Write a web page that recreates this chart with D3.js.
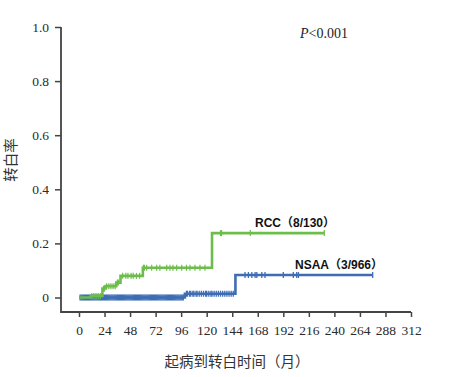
<!DOCTYPE html>
<html>
<head>
<meta charset="utf-8">
<script src="https://cdn.jsdelivr.net/npm/d3@7"></script>
<style>
  body { margin: 0; background: #fff; }
  .tick text { font-family: "Liberation Serif", "Times New Roman", serif; font-size: 13.5px; fill: #2a2a2a; }
  .tick line { stroke: #444; stroke-width: 1.5; }
</style>
</head>
<body>
<div id="chart"></div>
<script>
// x axis ticks (months)
const xTicks = [0, 24, 48, 72, 96, 120, 144, 168, 192, 216, 240, 264, 288, 312];
const yTicks = [0, 0.2, 0.4, 0.6, 0.8, 1.0];

// RCC step curve
const rccTimes = [0, 11, 22, 25, 35, 39, 60, 125, 230.5];
const rccRates = [0, 0.006, 0.033, 0.042, 0.055, 0.08, 0.11, 0.238, 0.238];
const rccCensor = [12, 14, 16, 18, 20, 23, 24, 26, 28, 30, 32, 34, 36, 37, 41, 44, 46, 49, 51, 54, 57,
  60.5, 61.5, 63.6, 68.3, 73, 76, 82.4, 85.5, 88.3, 91.8, 96.5, 101, 104.3, 109, 113.7, 118.4,
  133, 134, 161, 230.5];

// NSAA step curve
const nsaaTimes = [0, 99.5, 147, 276];
const nsaaRates = [0, 0.014, 0.083, 0.083];
const nsaaCensor = [1, 2, 3, 4, 5, 6, 7, 8, 9, 10, 11, 12, 13, 14, 15, 16, 17, 18, 19, 20, 21, 22, 23, 24, 25, 26, 27, 28, 29,
  30, 31, 32, 33, 34, 35, 36, 37, 38, 39, 40, 41, 42, 43, 44, 45, 46, 47, 48, 49, 50, 51, 52, 53, 54, 55, 56, 57, 58, 59,
  60, 61, 62, 63, 64, 65, 66, 67, 68, 69, 70, 71, 72, 73, 74, 75, 76, 77, 78, 79, 80, 81, 82, 83, 84, 85, 86, 87, 88, 89,
  90, 91, 92, 93, 94, 95, 96, 97, 98,
  101, 102, 104, 105, 107, 108, 110, 111, 113, 115, 117, 119, 120, 122, 124, 125, 127, 129, 131, 133, 135, 137, 139, 141, 143, 145,
  156, 159.2, 162.4, 165.5, 167.1, 171.8, 174.8, 192, 201.4, 204.6, 206.2, 276];

const width = 465, height = 377;

const svg = d3.select("#chart").append("svg")
    .attr("width", width)
    .attr("height", height);

const x = d3.scaleLinear().domain([0, 312]).range([79, 411]);
const y = d3.scaleLinear().domain([0, 1]).range([297.5, 27]);

const axisY = 312, axisX = 61;

// axes
const xAxis = svg.append("g")
    .attr("transform", `translate(0, ${axisY})`)
    .call(d3.axisBottom(x).tickValues(xTicks).tickFormat(d3.format("d")).tickSize(5).tickPadding(8));
xAxis.select(".domain").remove();

const yAxis = svg.append("g")
    .attr("transform", `translate(${axisX}, 0)`)
    .call(d3.axisLeft(y).tickValues(yTicks).tickFormat(d => d === 0 ? "0" : d3.format(".1f")(d)).tickSize(6).tickPadding(6));
yAxis.select(".domain").remove();

svg.append("path")
    .attr("d", `M${axisX},${y(1)}V${axisY}H${x(312)}`)
    .attr("fill", "none")
    .attr("stroke", "#444")
    .attr("stroke-width", 1.8);

// curves
const line = d3.line()
    .x(d => x(d[0]))
    .y(d => y(d[1]))
    .curve(d3.curveStepAfter);

function stepAt(times, rates, t) {
    let v = 0;
    times.forEach((tt, i) => { if (tt <= t) v = rates[i]; });
    return v;
}

function drawCurve(times, rates, censor, color, tickW) {
    svg.append("path")
        .datum(times.map((t, i) => [t, rates[i]]))
        .attr("d", line)
        .attr("fill", "none")
        .attr("stroke", color)
        .attr("stroke-width", 2.6);

    svg.selectAll(null)
        .data(censor)
        .enter()
        .append("line")
        .attr("x1", d => x(d))
        .attr("x2", d => x(d))
        .attr("y1", d => y(stepAt(times, rates, d)) - 3)
        .attr("y2", d => y(stepAt(times, rates, d)) + 3)
        .attr("stroke", color)
        .attr("stroke-width", tickW);
}

drawCurve(nsaaTimes, nsaaRates, nsaaCensor, "#3e6db4", 1.3);
drawCurve(rccTimes, rccRates, rccCensor, "#6cbd4c", 1.2);

// labels
svg.append("text")
    .attr("x", 255).attr("y", 227)
    .attr("font-family", "'Liberation Sans', Arial, 'Noto Sans CJK SC', sans-serif")
    .attr("font-weight", "bold").attr("font-size", 12)
    .attr("fill", "#111")
    .text("RCC（8/130）");

svg.append("text")
    .attr("x", 295).attr("y", 269)
    .attr("font-family", "'Liberation Sans', Arial, 'Noto Sans CJK SC', sans-serif")
    .attr("font-weight", "bold").attr("font-size", 12)
    .attr("fill", "#111")
    .text("NSAA（3/966）");

const p = svg.append("text")
    .attr("x", 300).attr("y", 38)
    .attr("font-family", "'Liberation Serif', 'Times New Roman', serif")
    .attr("font-size", 14)
    .attr("fill", "#222");
p.append("tspan").attr("font-style", "italic").text("P");
p.append("tspan").text("<0.001");

// axis titles
svg.append("text")
    .attr("x", 237).attr("y", 367)
    .attr("text-anchor", "middle")
    .attr("font-family", "'Noto Sans CJK SC', sans-serif")
    .attr("font-size", 14.5)
    .attr("fill", "#333")
    .text("起病到转白时间（月）");

svg.append("text")
    .attr("transform", "translate(16, 160) rotate(-90)")
    .attr("text-anchor", "middle")
    .attr("font-family", "'Noto Sans CJK SC', sans-serif")
    .attr("font-size", 14.5)
    .attr("fill", "#333")
    .text("转白率");
</script>
</body>
</html>
